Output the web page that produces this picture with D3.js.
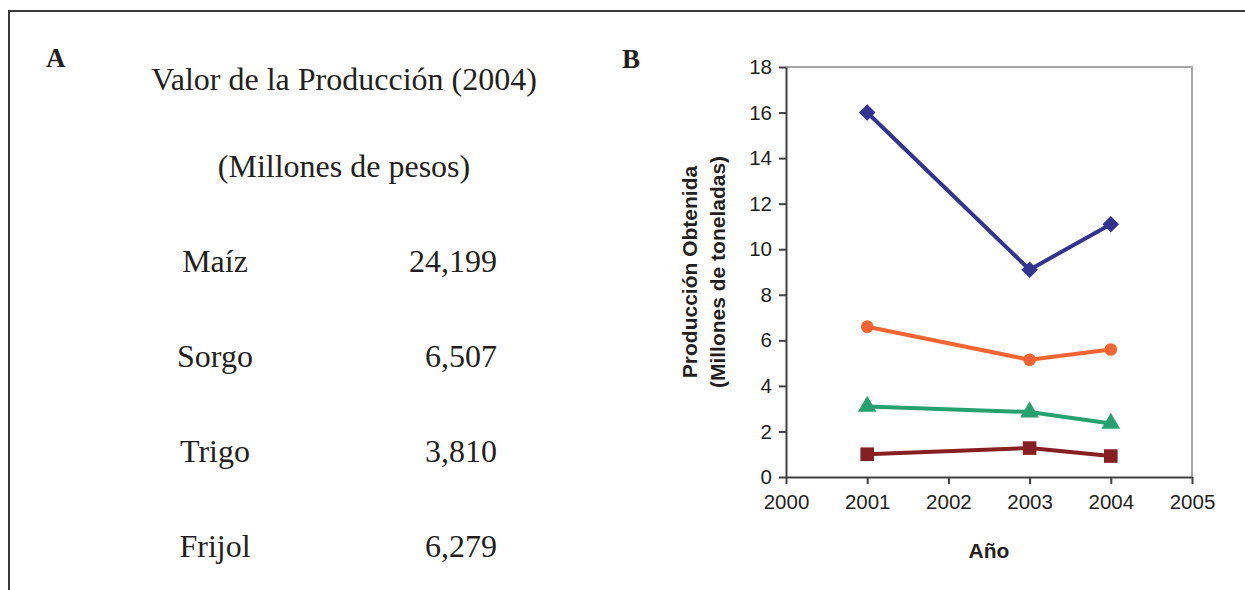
<!DOCTYPE html>
<html>
<head>
<meta charset="utf-8">
<script src="https://cdn.jsdelivr.net/npm/d3@7"></script>
<style>
  body { margin: 0; background: #fff; }
  svg { display: block; }
  .serif { font-family: "Liberation Serif", "Times New Roman", serif; fill: #231f20; }
  .sans { font-family: "Liberation Sans", Arial, sans-serif; fill: #231f20; }
  .axis text { font-family: "Liberation Sans", Arial, sans-serif; font-size: 20.5px; fill: #231f20; }
</style>
</head>
<body>
<div class="chart"></div>
<script>
// Panel A: valor de la produccion
var crops = ['Maíz', 'Sorgo', 'Trigo', 'Frijol']
var valueLabels = ['24,199', '6,507', '3,810', '6,279']

// Panel B: produccion obtenida (millones de toneladas)
var years = [2001, 2003, 2004]
var maiz = [16.0, 9.1, 11.1]
var sorgo = [6.6, 5.15, 5.6]
var trigo = [3.1, 2.85, 2.35]
var frijol = [1.0, 1.27, 0.92]
var xTicks = [2000, 2001, 2002, 2003, 2004, 2005]
var yTicks = [0, 2, 4, 6, 8, 10, 12, 14, 16, 18]

var series = [
  { name: 'Maíz', values: maiz, color: '#333391', symbol: d3.symbolDiamond2, size: 175 },
  { name: 'Sorgo', values: sorgo, color: '#f26532', symbol: d3.symbolCircle, size: 125 },
  { name: 'Trigo', values: trigo, color: '#27a06f', symbol: d3.symbolTriangle, size: 150 },
  { name: 'Frijol', values: frijol, color: '#861f22', symbol: d3.symbolSquare, size: 185 }
]

var W = 1245, H = 590

var svg = d3.select('.chart')
  .append('svg')
  .attr('width', W)
  .attr('height', H)

// outer frame (runs off the right and bottom edges)
svg.append('path')
  .attr('d', 'M9,' + (H + 5) + 'V11H' + (W + 5))
  .attr('fill', 'none')
  .attr('stroke', '#3a3a3a')
  .attr('stroke-width', 2)

// ---------- Panel A ----------
svg.append('text').attr('class', 'serif')
  .attr('x', 46).attr('y', 67)
  .attr('font-size', 27).attr('font-weight', 'bold')
  .text('A')

svg.append('text').attr('class', 'serif')
  .attr('x', 344).attr('y', 90)
  .attr('text-anchor', 'middle')
  .attr('font-size', 32)
  .text('Valor de la Producción (2004)')

svg.append('text').attr('class', 'serif')
  .attr('x', 344).attr('y', 177)
  .attr('text-anchor', 'middle')
  .attr('font-size', 32)
  .text('(Millones de pesos)')

var rowY = d3.scalePoint()
  .domain(crops)
  .range([272, 557])

svg.selectAll('text.crop')
  .data(crops)
  .enter()
  .append('text')
  .attr('class', 'serif crop')
  .attr('x', 215)
  .attr('y', d => rowY(d))
  .attr('text-anchor', 'middle')
  .attr('font-size', 32)
  .text(d => d)

svg.selectAll('text.val')
  .data(crops)
  .enter()
  .append('text')
  .attr('class', 'serif val')
  .attr('x', 497)
  .attr('y', d => rowY(d))
  .attr('text-anchor', 'end')
  .attr('font-size', 32)
  .text((d, i) => valueLabels[i])

// ---------- Panel B ----------
svg.append('text').attr('class', 'serif')
  .attr('x', 622).attr('y', 68)
  .attr('font-size', 27).attr('font-weight', 'bold')
  .text('B')

var plotL = 786, plotR = 1192, plotT = 67, plotB = 477

var xScale = d3.scaleLinear()
  .domain([2000, 2005])
  .range([plotL, plotR])

var yScale = d3.scaleLinear()
  .domain([0, 18])
  .range([plotB, plotT])

// gray top / right border of plot area
svg.append('path')
  .attr('d', 'M' + plotL + ',' + plotT + 'H' + plotR + 'V' + plotB)
  .attr('fill', 'none')
  .attr('stroke', '#a6a6a6')
  .attr('stroke-width', 2)

var xAxis = d3.axisBottom(xScale)
  .tickValues(xTicks)
  .tickFormat(d3.format('d'))
  .tickSizeInner(7)
  .tickSizeOuter(0)
  .tickPadding(10)

var yAxis = d3.axisLeft(yScale)
  .tickValues(yTicks)
  .tickSizeInner(7)
  .tickSizeOuter(0)
  .tickPadding(7)

svg.append('g')
  .attr('class', 'axis')
  .attr('transform', 'translate(0,' + plotB + ')')
  .call(xAxis)

svg.append('g')
  .attr('class', 'axis')
  .attr('transform', 'translate(' + plotL + ',0)')
  .call(yAxis)

svg.selectAll('.axis path, .axis line')
  .attr('stroke', '#404040')
  .attr('stroke-width', 2)

// lines
var line = d3.line()
  .x((d, i) => xScale(years[i]))
  .y(d => yScale(d))

series.forEach(s => {
  svg.append('path')
    .attr('d', line(s.values))
    .attr('fill', 'none')
    .attr('stroke', s.color)
    .attr('stroke-width', 4)
    .attr('stroke-linejoin', 'round')

  svg.selectAll(null)
    .data(s.values)
    .enter()
    .append('path')
    .attr('d', d3.symbol().type(s.symbol).size(s.size))
    .attr('transform', (d, i) => 'translate(' + xScale(years[i]) + ',' + yScale(d) + ')')
    .attr('fill', s.color)
})

// axis titles
svg.append('text').attr('class', 'sans')
  .attr('x', (plotL + plotR) / 2).attr('y', 558)
  .attr('text-anchor', 'middle')
  .attr('font-size', 21).attr('font-weight', 'bold')
  .text('Año')

var yTitle = svg.append('text').attr('class', 'sans')
  .attr('transform', 'translate(697,' + ((plotT + plotB) / 2) + ') rotate(-90)')
  .attr('text-anchor', 'middle')
  .attr('font-size', 21).attr('font-weight', 'bold')

yTitle.append('tspan').attr('x', 0).attr('y', 0).text('Producción Obtenida')
yTitle.append('tspan').attr('x', 0).attr('y', 28).text('(Millones de toneladas)')
</script>
</body>
</html>
